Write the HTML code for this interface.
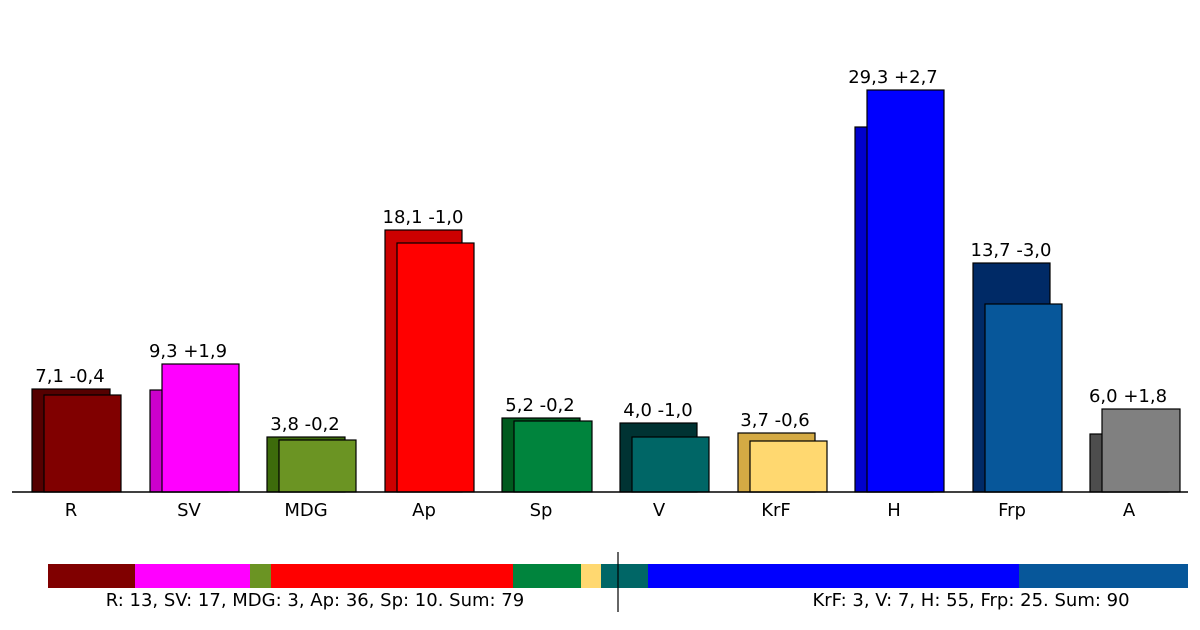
<!DOCTYPE html>
<html><head><meta charset="utf-8"><style>body{margin:0;background:#fff}svg{display:block}text{font-family:"DejaVu Sans","Liberation Sans",sans-serif;font-size:18px;fill:#000}</style></head><body>
<svg width="1200" height="630" xmlns="http://www.w3.org/2000/svg">
<g stroke="#000" stroke-width="1.2">
<rect x="32" y="389" width="78" height="103" fill="#550000"/>
<rect x="44" y="395" width="77" height="97" fill="#800000"/>
<rect x="150" y="390" width="78" height="102" fill="#cc00cc"/>
<rect x="162" y="364" width="77" height="128" fill="#ff00ff"/>
<rect x="267" y="437" width="78" height="55" fill="#3d6b0b"/>
<rect x="279" y="440" width="77" height="52" fill="#6b9423"/>
<rect x="385" y="230" width="77" height="262" fill="#cc0000"/>
<rect x="397" y="243" width="77" height="249" fill="#ff0000"/>
<rect x="502" y="418" width="78" height="74" fill="#005a1e"/>
<rect x="514" y="421" width="78" height="71" fill="#00843d"/>
<rect x="620" y="423" width="77" height="69" fill="#003333"/>
<rect x="632" y="437" width="77" height="55" fill="#006666"/>
<rect x="738" y="433" width="77" height="59" fill="#d4aa44"/>
<rect x="750" y="441" width="77" height="51" fill="#ffd870"/>
<rect x="855" y="127" width="78" height="365" fill="#0000cc"/>
<rect x="867" y="90" width="77" height="402" fill="#0000ff"/>
<rect x="973" y="263" width="77" height="229" fill="#002a66"/>
<rect x="985" y="304" width="77" height="188" fill="#07579a"/>
<rect x="1090" y="434" width="78" height="58" fill="#4d4d4d"/>
<rect x="1102" y="409" width="78" height="83" fill="#808080"/>
</g>
<line x1="12" y1="492" x2="1188" y2="492" stroke="#000" stroke-width="1.5"/>
<g text-anchor="middle">
<text x="70" y="382">7,1 -0,4</text>
<text x="188" y="357">9,3 +1,9</text>
<text x="305" y="430">3,8 -0,2</text>
<text x="423" y="223">18,1 -1,0</text>
<text x="540" y="411">5,2 -0,2</text>
<text x="658" y="416">4,0 -1,0</text>
<text x="775" y="426">3,7 -0,6</text>
<text x="893" y="83">29,3 +2,7</text>
<text x="1011" y="256">13,7 -3,0</text>
<text x="1128" y="402">6,0 +1,8</text>
<text x="71" y="516">R</text>
<text x="189" y="516">SV</text>
<text x="306" y="516">MDG</text>
<text x="424" y="516">Ap</text>
<text x="541" y="516">Sp</text>
<text x="659" y="516">V</text>
<text x="776" y="516">KrF</text>
<text x="894" y="516">H</text>
<text x="1012" y="516">Frp</text>
<text x="1129" y="516">A</text>
</g>
<rect x="48" y="564" width="87" height="24" fill="#800000"/>
<rect x="135" y="564" width="115" height="24" fill="#ff00ff"/>
<rect x="250" y="564" width="21" height="24" fill="#6b9423"/>
<rect x="271" y="564" width="242" height="24" fill="#ff0000"/>
<rect x="513" y="564" width="68" height="24" fill="#00843d"/>
<rect x="581" y="564" width="20" height="24" fill="#ffd870"/>
<rect x="601" y="564" width="47" height="24" fill="#006666"/>
<rect x="648" y="564" width="371" height="24" fill="#0000ff"/>
<rect x="1019" y="564" width="169" height="24" fill="#07579a"/>
<line x1="618" y1="552" x2="618" y2="612" stroke="#000" stroke-width="1.2"/>
<text x="315" y="606" text-anchor="middle">R: 13, SV: 17, MDG: 3, Ap: 36, Sp: 10. Sum: 79</text>
<text x="971" y="606" text-anchor="middle">KrF: 3, V: 7, H: 55, Frp: 25. Sum: 90</text>
</svg>
</body></html>
